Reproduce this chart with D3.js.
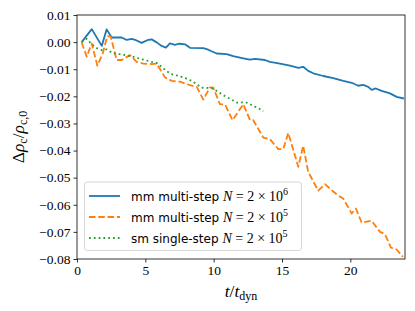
<!DOCTYPE html>
<html>
<head>
<meta charset="utf-8">
<script src="https://cdn.jsdelivr.net/npm/d3@7"></script>
<style>
  body { margin: 0; background: #fff; }
  text { fill: #000; }
</style>
</head>
<body>
<script>
// time in units of t_dyn, central density change
var blueT = [0.34, 1.08, 1.81, 2.17, 2.54, 3.27, 3.64, 4.0, 4.32, 4.73, 5.14, 5.46, 5.83, 6.19, 6.51, 6.8, 7.17, 7.48, 7.9, 8.27, 9.24, 9.6, 10.22, 10.95, 11.43, 12.17, 12.65, 13.02, 13.75, 14.12, 14.85, 15.58, 16.19, 16.55, 16.92, 17.29, 18.02, 18.75, 19.48, 20.1, 20.58, 20.94, 21.31, 21.56, 21.87, 22.29, 22.9, 23.39, 23.92];
var blueV = [0.0000, 0.0048, -0.0014, 0.0047, 0.0017, 0.0017, 0.0008, 0.0012, 0.0007, -0.0003, 0.0007, 0.0010, -0.0001, -0.0014, -0.0020, -0.0005, -0.0010, -0.0006, -0.0008, -0.0021, -0.0022, -0.0028, -0.0042, -0.0044, -0.0052, -0.0060, -0.0065, -0.0062, -0.0066, -0.0073, -0.0079, -0.0087, -0.0095, -0.0091, -0.0106, -0.0115, -0.0125, -0.0133, -0.0143, -0.0150, -0.0161, -0.0158, -0.0165, -0.0176, -0.0171, -0.0180, -0.0189, -0.0202, -0.0208];

var orangeT = [0.34, 0.71, 1.08, 1.49, 1.88, 2.22, 2.47, 2.9, 3.27, 3.88, 4.37, 4.85, 5.46, 5.83, 6.44, 6.93, 7.53, 8.27, 8.76, 9.24, 9.73, 9.97, 10.46, 10.83, 11.38, 12.17, 12.66, 12.9, 13.63, 14.12, 14.73, 15.09, 15.46, 16.19, 16.55, 16.92, 17.65, 18.14, 18.73, 19.09, 19.48, 20.1, 20.41, 20.83, 21.56, 22.17, 22.53, 22.97, 23.39, 23.85];
var orangeV = [-0.0001, -0.0054, -0.0005, -0.0087, -0.0042, 0.0022, 0.0020, -0.0066, -0.0066, -0.0048, -0.0073, -0.0079, -0.0081, -0.0079, -0.0130, -0.0143, -0.0146, -0.0159, -0.0165, -0.0212, -0.0167, -0.0168, -0.0229, -0.0230, -0.0288, -0.0229, -0.0288, -0.0288, -0.0352, -0.0358, -0.0395, -0.0395, -0.0335, -0.0460, -0.0382, -0.0479, -0.0548, -0.0524, -0.0550, -0.0565, -0.0577, -0.0632, -0.0614, -0.0666, -0.0659, -0.0700, -0.0708, -0.0758, -0.0765, -0.0792];

var greenT = [0.34, 0.71, 1.08, 1.45, 1.81, 2.17, 2.54, 2.9, 3.27, 3.64, 4.0, 4.37, 4.73, 5.1, 5.46, 5.83, 6.19, 6.56, 6.92, 7.29, 7.65, 8.02, 8.39, 8.75, 9.12, 9.48, 9.85, 10.22, 10.58, 10.95, 11.31, 11.68, 12.05, 12.41, 12.78, 13.14, 13.51, 13.63];
var greenV = [0.0000, 0.0012, -0.0008, -0.0022, -0.0030, -0.0027, -0.0038, -0.0044, -0.0044, -0.0050, -0.0052, -0.0058, -0.0063, -0.0068, -0.0073, -0.0077, -0.0091, -0.0107, -0.0118, -0.0123, -0.0128, -0.0135, -0.0143, -0.0155, -0.0168, -0.0169, -0.0170, -0.0180, -0.0192, -0.0203, -0.0212, -0.0223, -0.0222, -0.0223, -0.0232, -0.0241, -0.0250, -0.0255];

var xTicks = [0, 5, 10, 15, 20];
var yTicks = [0.01, 0, -0.01, -0.02, -0.03, -0.04, -0.05, -0.06, -0.07, -0.08];

var series = [
  { name: "mm multi-step", exp: "6", color: "#1f77b4", dash: null, t: blueT, v: blueV },
  { name: "mm multi-step", exp: "5", color: "#ff7f0e", dash: "6.5,2.8", t: orangeT, v: orangeV },
  { name: "sm single-step", exp: "5", color: "#2ca02c", dash: "1.8,3", t: greenT, v: greenV }
];

var W = 415, H = 311;
var margin = { top: 15, right: 10, bottom: 52, left: 77 };
var serif = "'Liberation Serif', 'DejaVu Serif', serif";
var sans = "'DejaVu Sans', sans-serif";

var svg = d3.select("body").append("svg")
  .attr("width", W)
  .attr("height", H);

var x = d3.scaleLinear().domain([0, 24]).range([margin.left, W - margin.right]);
var y = d3.scaleLinear().domain([-0.08, 0.01]).range([H - margin.bottom, margin.top]);

var line = d3.line()
  .x(function(d) { return x(d[0]); })
  .y(function(d) { return y(d[1]); });

series.forEach(function(s) {
  var pts = s.t.map(function(t, i) { return [t, s.v[i]]; });
  svg.append("path")
    .attr("d", line(pts))
    .attr("fill", "none")
    .attr("stroke", s.color)
    .attr("stroke-width", 1.8)
    .attr("stroke-dasharray", s.dash)
    .attr("stroke-linejoin", "round");
});

// axes
var xAxis = svg.append("g")
  .attr("transform", "translate(0," + (H - margin.bottom) + ")")
  .call(d3.axisBottom(x).tickValues(xTicks).tickSize(3.5).tickPadding(3).tickFormat(d3.format("d")));
var yAxis = svg.append("g")
  .attr("transform", "translate(" + margin.left + ",0)")
  .call(d3.axisLeft(y).tickValues(yTicks).tickSize(3.5).tickPadding(3)
    .tickFormat(function(d) { return d3.format(".2f")(d).replace("-", "\u2212"); }));

[xAxis, yAxis].forEach(function(a) {
  a.select(".domain").remove();
  a.selectAll("line").attr("stroke", "#000").attr("stroke-width", 0.8);
  a.selectAll("text").attr("font-family", serif).attr("font-size", 13.5).attr("fill", "#000");
});

// frame
svg.append("rect")
  .attr("x", margin.left)
  .attr("y", margin.top)
  .attr("width", W - margin.left - margin.right)
  .attr("height", H - margin.top - margin.bottom)
  .attr("fill", "none")
  .attr("stroke", "#000")
  .attr("stroke-width", 0.8);

// axis labels
var xl = svg.append("text")
  .attr("x", (margin.left + W - margin.right) / 2)
  .attr("y", 297)
  .attr("text-anchor", "middle")
  .attr("font-family", serif)
  .attr("font-size", 17.5);
xl.append("tspan").attr("font-style", "italic").text("t");
xl.append("tspan").text("/");
xl.append("tspan").attr("font-style", "italic").text("t");
xl.append("tspan").attr("font-size", 12).attr("dy", 3).text("dyn");

var yl = svg.append("text")
  .attr("transform", "translate(24," + ((margin.top + H - margin.bottom) / 2) + ") rotate(-90)")
  .attr("text-anchor", "middle")
  .attr("font-family", serif)
  .attr("font-size", 17.5);
yl.append("tspan").text("\u0394");
yl.append("tspan").attr("font-style", "italic").text("\u03c1");
yl.append("tspan").attr("font-size", 12).attr("dy", 3).text("c");
yl.append("tspan").attr("dy", -3).text("/");
yl.append("tspan").attr("font-style", "italic").text("\u03c1");
yl.append("tspan").attr("font-size", 12).attr("dy", 3).text("c,0");

// legend
var leg = svg.append("g");
leg.append("rect")
  .attr("x", 84.5).attr("y", 182)
  .attr("width", 217).attr("height", 68.5)
  .attr("rx", 3)
  .attr("fill", "#fff").attr("fill-opacity", 0.8)
  .attr("stroke", "#cccccc").attr("stroke-width", 0.8);

var rowY = [196, 217, 238];
series.forEach(function(s, i) {
  leg.append("line")
    .attr("x1", 89).attr("x2", 120)
    .attr("y1", rowY[i]).attr("y2", rowY[i])
    .attr("stroke", s.color)
    .attr("stroke-width", 1.8)
    .attr("stroke-dasharray", s.dash);
  var t = leg.append("text")
    .attr("x", 131)
    .attr("y", rowY[i] + 4.5)
    .attr("font-size", 12);
  t.append("tspan").attr("font-family", sans).text(s.name + " ");
  t.append("tspan").attr("font-family", serif).attr("font-style", "italic").attr("font-size", 14).text("N");
  t.append("tspan").attr("font-family", serif).attr("font-size", 14).text(" = 2 \u00d7 10");
  t.append("tspan").attr("font-family", serif).attr("font-size", 10).attr("dy", -5.5).text(s.exp);
});
</script>
</body>
</html>
